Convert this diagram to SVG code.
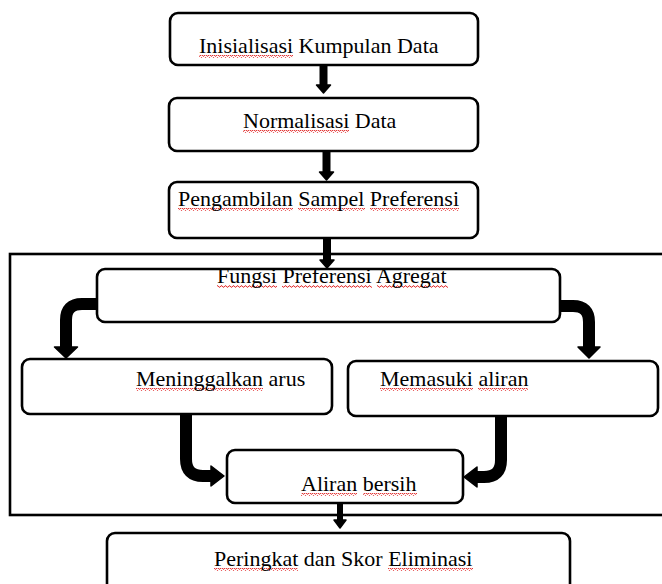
<svg xmlns="http://www.w3.org/2000/svg" width="662" height="584" viewBox="0 0 662 584">
  <style>
    .box { fill: #ffffff; stroke: #000000; stroke-width: 2.6; }
    .frame { fill: none; stroke: #000000; stroke-width: 2.6; }
    .lbl { font-family: "Liberation Serif", "Times New Roman", serif; font-size: 22px; fill: #000000; }
    .shaft { fill: none; stroke: #000000; stroke-width: 8; }
    .bend { fill: none; stroke: #000000; stroke-width: 12; }
    .head { fill: #000000; stroke: #000000; stroke-width: 1.5; stroke-linejoin: round; }
    .wave { fill: url(#wavy); }
  </style>
  <defs>
    <pattern id="wavy" x="0" y="0" width="4" height="3" patternUnits="userSpaceOnUse">
      <path d="M0,2.2 L1,0.8 L2,0.8 L3,2.2 L4,2.2" fill="none" stroke="#e02020" stroke-width="0.9"/>
    </pattern>
  </defs>

  <rect class="frame" x="10" y="254" width="662" height="261"/>

  <g id="connectors">
    <line class="shaft" x1="323.5" y1="65" x2="323.5" y2="86"/>
    <polygon class="head" points="316.5,85 330.5,85 323.5,93"/>
    <line class="shaft" x1="326.5" y1="151" x2="326.5" y2="173"/>
    <polygon class="head" points="319.5,172 333.5,172 326.5,180"/>
    <line class="shaft" x1="327" y1="238" x2="327" y2="261"/>
    <polygon class="head" points="320,260 334,260 327,268"/>
    <line class="shaft" x1="340" y1="503" x2="340" y2="522" style="stroke-width:6"/>
    <polygon class="head" points="334,520 346,520 340,528"/>

    <path class="bend" d="M98,304 L82,304 Q66,304 66,320 L66,348"/>
    <polygon class="head" points="54.5,347 77.5,347 66,358"/>
    <path class="bend" d="M559,306 L573,306 Q589,306 589,322 L589,348"/>
    <polygon class="head" points="578,347 600,347 589,358"/>
    <path class="bend" d="M186,413 L186,459 Q186,476 203,476 L212,476"/>
    <polygon class="head" points="211,466 211,486 224,476"/>
    <path class="bend" d="M501,415 L501,460 Q501,477 484,477 L476,477"/>
    <polygon class="head" points="477,467 477,487 464,477"/>
  </g>

  <g id="n1">
    <rect class="box" x="170" y="13" width="308" height="52" rx="8"/>
    <rect class="wave" x="199" y="55" width="94" height="3"/>
    <text class="lbl" x="199" y="53">Inisialisasi Kumpulan Data</text>
  </g>
  <g id="n2">
    <rect class="box" x="169" y="98" width="309" height="53" rx="8"/>
    <rect class="wave" x="243" y="130" width="106" height="3"/>
    <text class="lbl" x="243" y="128">Normalisasi Data</text>
  </g>
  <g id="n3">
    <rect class="box" x="169" y="182" width="309" height="56" rx="8"/>
    <rect class="wave" x="178" y="208" width="115" height="3"/>
    <rect class="wave" x="298" y="208" width="67" height="3"/>
    <rect class="wave" x="370" y="208" width="89" height="3"/>
    <text class="lbl" x="178" y="206">Pengambilan Sampel Preferensi</text>
  </g>
  <g id="n4">
    <rect class="box" x="97" y="269" width="463" height="53" rx="8"/>
    <rect class="wave" x="217" y="285" width="60" height="3"/>
    <rect class="wave" x="282" y="285" width="90" height="3"/>
    <rect class="wave" x="377" y="285" width="71" height="3"/>
    <text class="lbl" x="217" y="283">Fungsi Preferensi Agregat</text>
  </g>
  <g id="n5">
    <rect class="box" x="22" y="359" width="310" height="55" rx="8"/>
    <rect class="wave" x="136" y="388" width="127" height="3"/>
    <text class="lbl" x="136" y="386">Meninggalkan arus</text>
  </g>
  <g id="n6">
    <rect class="box" x="348" y="361" width="310" height="55" rx="8"/>
    <rect class="wave" x="380" y="388" width="93" height="3"/>
    <rect class="wave" x="478" y="388" width="50" height="3"/>
    <text class="lbl" x="380" y="386">Memasuki aliran</text>
  </g>
  <g id="n7">
    <rect class="box" x="227" y="450" width="236" height="53" rx="8"/>
    <rect class="wave" x="301" y="493" width="56" height="3"/>
    <rect class="wave" x="363" y="493" width="54" height="3"/>
    <text class="lbl" x="301" y="491">Aliran bersih</text>
  </g>
  <g id="n8">
    <rect class="box" x="107" y="533" width="463" height="62" rx="8"/>
    <rect class="wave" x="214" y="568" width="84" height="3"/>
    <rect class="wave" x="388" y="568" width="85" height="3"/>
    <text class="lbl" x="214" y="566">Peringkat dan Skor Eliminasi</text>
  </g>
</svg>
